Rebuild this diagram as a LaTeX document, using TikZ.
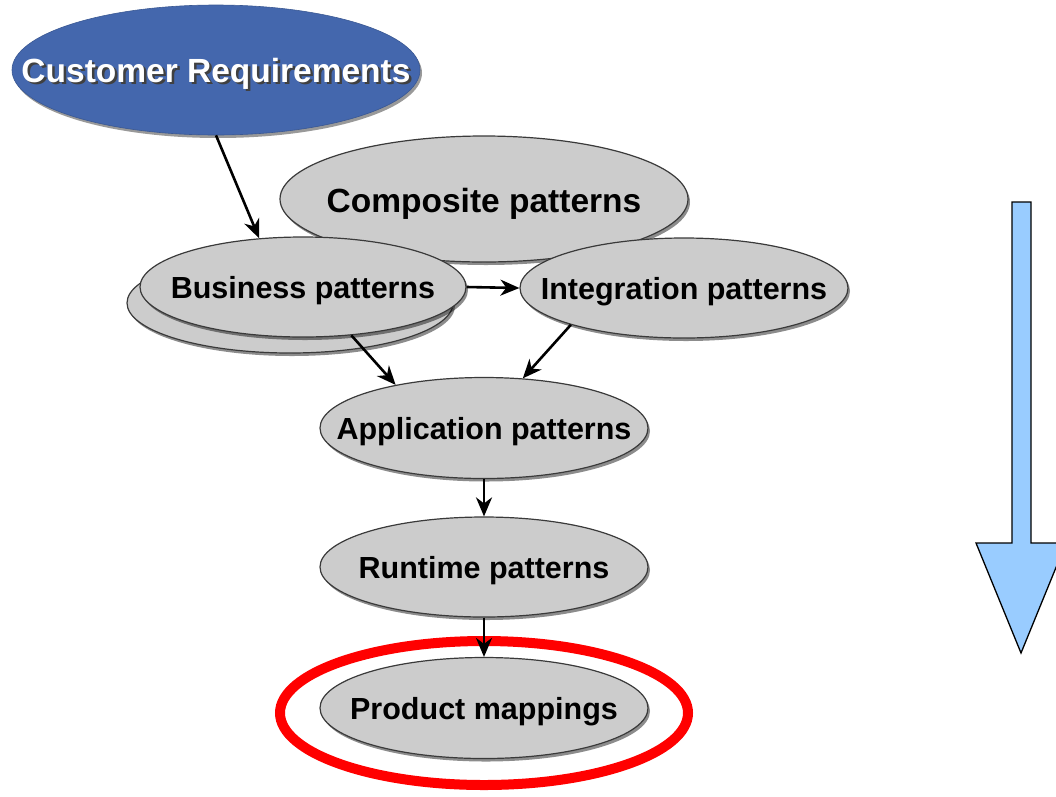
\documentclass[tikz,border=0pt]{standalone}
\usepackage{fontspec}
\setmainfont{Liberation Sans}
\usetikzlibrary{shapes.geometric,arrows.meta,shadows}
\definecolor{crblue}{HTML}{4467AD}
\definecolor{pgray}{HTML}{CCCCCC}
\definecolor{pline}{HTML}{3A3A3A}
\definecolor{bigblue}{HTML}{99CCFF}
\newcommand{\ptext}[2][11.5pt]{\makebox[0pt]{\smash{\raisebox{-#1}{#2}}}}
\newcommand{\shtext}[1]{\makebox[0pt]{\smash{\raisebox{-12pt}{\rlap{\kern2.5pt\raisebox{-2.5pt}{\textcolor{black!75}{#1}}}#1}}}}
\begin{document}
\begin{tikzpicture}[x=1pt,y=-1pt,
  pnode/.style={ellipse, draw=pline, line width=1.2pt, fill=pgray, inner sep=0pt,
    drop shadow={shadow xshift=2pt, shadow yshift=-3pt, fill=black, opacity=0.45},
    font=\fontsize{30.5}{36}\selectfont\bfseries},
  conn/.style={-{Stealth[length=19pt,width=16pt,inset=6pt]}, line width=2.6pt, black},
]
\useasboundingbox (0,0) rectangle (1056,796);
\clip (0,0) rectangle (1056,796);

% big arrow on the right
\filldraw[fill=bigblue, draw=black, line width=1.3pt, line join=miter]
  (1012,202) -- (1031,202) -- (1031,543) -- (1066,543) -- (1021,653)
  -- (976,543) -- (1012,543) -- cycle;

% highlight ring
\node[ellipse, draw=red, line width=10pt, minimum width=408pt, minimum height=144pt, inner sep=0pt] (hl) at (484,713) {};

% Customer requirements
\node[ellipse, draw=crblue!85!black, line width=0.6pt, fill=crblue, inner sep=0pt,
  minimum width=408pt, minimum height=130pt,
  drop shadow={shadow xshift=2pt, shadow yshift=-3pt, fill=black, opacity=0.4},
  text=white, font=\fontsize{33.5}{38}\selectfont\bfseries] (cr) at (216,70)
  {\shtext{Customer Requirements}};

% Composite patterns (behind)
\node[pnode, minimum width=408pt, minimum height=126pt, font=\fontsize{33.5}{40}\selectfont\bfseries] (cp) at (484,199)
  {\ptext[13pt]{Composite patterns}};

% Business patterns stack
\node[pnode, minimum width=326pt, minimum height=100pt] (bp2) at (290,303) {};
\node[pnode, minimum width=326pt, minimum height=100pt] (bp) at (303,287)
  {\ptext{Business patterns}};

\node[pnode, minimum width=328pt, minimum height=100pt] (ip) at (684,288)
  {\ptext{Integration patterns}};

\node[pnode, minimum width=328pt, minimum height=101pt] (ap) at (484,428)
  {\ptext{Application patterns}};

\node[pnode, minimum width=328pt, minimum height=100pt] (rp) at (484,567)
  {\ptext{Runtime patterns}};

\node[pnode, minimum width=328pt, minimum height=101pt] (pm) at (484,708)
  {\ptext{Product mappings}};

% connectors
\draw[conn] (cr.south) -- (bp.132);
\draw[conn] (bp.east) -- (ip.west);
\draw[conn] (bp.-45) -- (ap.154);
\draw[conn] (ip.198) -- (ap.52);
\draw[conn] (ap.south) -- (rp.north);
\draw[conn] (rp.south) -- (pm.north);
\end{tikzpicture}
\end{document}
